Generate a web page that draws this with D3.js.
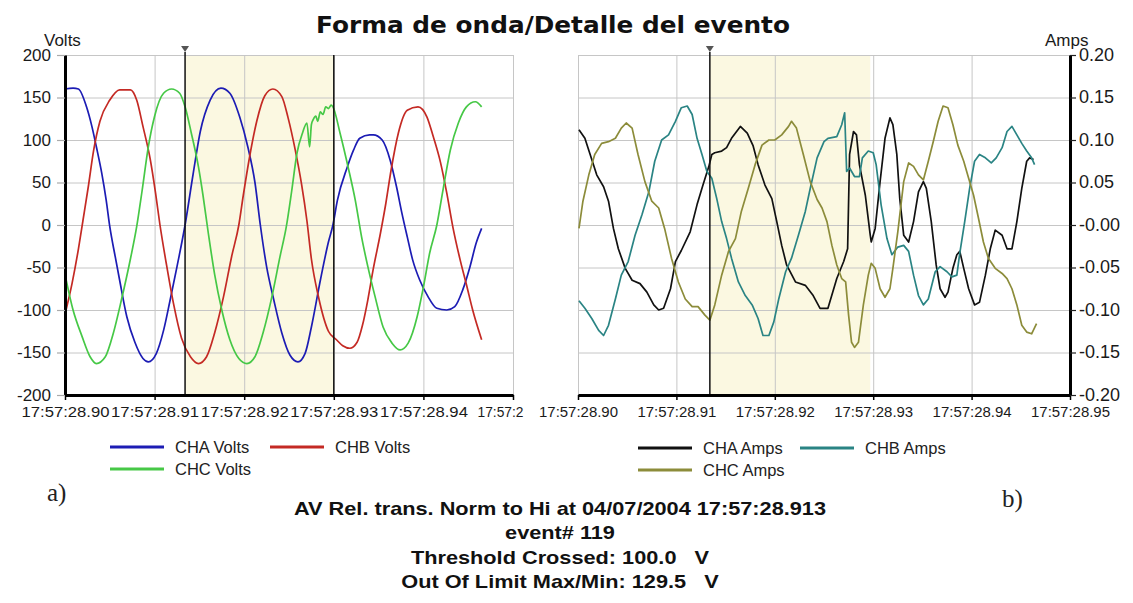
<!DOCTYPE html>
<html><head><meta charset="utf-8">
<script src="https://cdn.jsdelivr.net/npm/d3@7"></script>
<style>body{margin:0;background:#fff}svg{display:block}</style>
</head><body>
<svg id="c" width="1133" height="603"></svg>
<script>
// ---------- DATA (time in ms after 17:57:28.900) ----------
const xTickValues = [0, 10, 20, 30, 40, 50];
const voltsXLabels = ["17:57:28.90","17:57:28.91","17:57:28.92","17:57:28.93","17:57:28.94","17:57:2"];
const ampsXLabels  = ["17:57:28.90","17:57:28.91","17:57:28.92","17:57:28.93","17:57:28.94","17:57:28.95"];
const voltsYTicks  = [-200,-150,-100,-50,0,50,100,150,200];
const voltsYLabels = ["-200","-150","-100","-50","0","50","100","150","200"];
const ampsYTicks   = [-0.2,-0.15,-0.1,-0.05,0,0.05,0.1,0.15,0.2];
const ampsYLabels  = ["-0.20","-0.15","-0.10","-0.05","-0.00","0.05","0.10","0.15","0.20"];

const eventStart = 13.4;   // trigger marker
const eventEndVolts = 30.0;
const eventEndAmps = 29.7;

const chaVolts = [[0,160],[0.9,161],[1.5,160],[2.4,139],[3.0,116],[3.5,92],[4.1,61],[4.6,29],[5.0,-2],[5.6,-37],[6.1,-65],[6.9,-108],[7.8,-138],[8.7,-157],[9.3,-161],[10.2,-151],[11.0,-124],[11.7,-90],[12.5,-49],[13.4,0],[14.3,60],[15.1,110],[16.2,147],[17.4,161],[18.4,155],[19.5,127],[20.4,92],[21.2,50],[21.8,0],[22.5,-49],[23.3,-88],[24.2,-127],[25.1,-153],[26.0,-161],[26.8,-151],[27.5,-120],[28.5,-65],[29.4,-20],[29.9,0],[30.4,29],[31.5,68],[32.2,88],[32.9,102],[34.0,106],[34.4,106],[35.4,100],[36.3,76],[37.0,45],[37.6,14],[38.2,-14],[38.8,-41],[39.6,-65],[40.5,-84],[41.5,-98],[42.6,-100],[43.5,-96],[44.4,-76],[45.2,-49],[45.9,-21],[46.5,-4]];
const chbVolts = [[0,-105],[0.8,-68],[1.5,-28],[2.0,5],[2.6,45],[3.2,88],[3.9,122],[5.0,147],[6.1,159],[7.3,159],[8.0,147],[8.7,116],[9.5,78],[10.1,38],[10.6,0],[11.3,-45],[12.1,-92],[13.0,-133],[14.0,-155],[14.9,-163],[15.8,-155],[16.7,-127],[17.7,-84],[18.6,-37],[19.4,0],[19.9,35],[20.6,80],[21.4,122],[22.3,152],[23.2,160],[24.2,151],[24.9,126],[25.7,88],[26.4,48],[27.0,5],[27.5,-40],[28.3,-85],[29.4,-125],[30.3,-135],[31.0,-142],[31.8,-145],[32.6,-138],[33.2,-118],[33.8,-88],[34.4,-52],[35.2,-10],[35.8,25],[36.4,65],[37.2,108],[38.2,135],[39.4,139],[40.4,127],[41.1,104],[41.9,74],[42.6,38],[43.3,-3],[44.1,-41],[44.8,-70],[45.5,-100],[46.5,-135]];
const chcVolts = [[0,-58],[0.9,-100],[1.9,-131],[2.8,-155],[3.5,-163],[4.5,-155],[5.4,-127],[6.3,-88],[7.3,-40],[8.0,-2],[8.6,40],[9.3,92],[10.0,128],[11.0,155],[11.9,160],[12.8,155],[13.4,139],[14.1,108],[14.9,68],[15.4,35],[16.0,-10],[16.7,-58],[17.5,-100],[18.4,-135],[19.4,-157],[20.3,-163],[21.2,-155],[22.1,-127],[23.1,-84],[24.0,-37],[24.7,-2],[25.3,40],[25.9,85],[26.5,108],[27.0,120],[27.3,92],[27.5,118],[27.7,124],[28.0,128],[28.2,122],[28.5,133],[28.8,130],[29.1,139],[29.4,137],[29.7,141],[29.9,139],[30.7,108],[31.6,68],[32.4,29],[33.1,-14],[33.8,-49],[34.6,-84],[35.5,-120],[36.5,-139],[37.4,-147],[38.3,-139],[39.3,-108],[40.0,-73],[40.7,-33],[41.5,0],[42.2,42],[43.0,88],[43.9,120],[44.8,139],[45.8,145],[46.5,139]];

const chaAmps = [[0.1,0.112],[0.7,0.102],[1.4,0.077],[1.9,0.059],[2.6,0.045],[3.1,0.028],[3.6,-0.004],[4.1,-0.028],[4.8,-0.051],[5.5,-0.065],[6.3,-0.069],[7.0,-0.079],[7.7,-0.094],[8.2,-0.100],[8.7,-0.098],[9.4,-0.075],[9.9,-0.043],[10.5,-0.030],[11.4,-0.008],[12.1,0.024],[12.7,0.047],[13.3,0.069],[13.6,0.083],[13.9,0.085],[14.6,0.087],[15.1,0.091],[15.6,0.102],[16.5,0.116],[17.2,0.108],[17.8,0.093],[18.3,0.071],[19.0,0.047],[19.7,0.031],[20.2,0.004],[20.7,-0.024],[21.2,-0.047],[22.1,-0.067],[23.1,-0.071],[23.9,-0.083],[24.6,-0.098],[25.4,-0.098],[26.3,-0.063],[27.0,-0.043],[27.4,-0.028],[27.6,0.083],[28.0,0.110],[28.3,0.106],[28.6,0.071],[29.2,0.035],[29.7,-0.012],[29.8,-0.020],[30.2,-0.004],[30.7,0.051],[31.2,0.102],[31.7,0.126],[32.0,0.118],[32.4,0.083],[32.7,0.031],[33.1,-0.012],[33.6,-0.020],[34.1,0.004],[34.6,0.039],[35.1,0.051],[35.4,0.043],[35.9,0.004],[36.4,-0.047],[36.8,-0.075],[37.3,-0.085],[37.6,-0.079],[38.1,-0.051],[38.5,-0.035],[38.8,-0.031],[39.2,-0.051],[39.7,-0.075],[40.3,-0.094],[40.8,-0.091],[41.4,-0.059],[41.9,-0.028],[42.4,-0.006],[43.1,-0.012],[43.6,-0.028],[44.1,-0.028],[44.6,0.004],[45.1,0.043],[45.6,0.075],[45.9,0.079],[46.3,0.077]];
const chbAmps = [[0.1,-0.089],[0.7,-0.098],[1.4,-0.110],[2.1,-0.124],[2.6,-0.130],[3.1,-0.118],[3.8,-0.087],[4.4,-0.059],[5.1,-0.043],[5.8,-0.012],[6.5,0.012],[7.2,0.039],[7.8,0.075],[8.5,0.100],[9.2,0.106],[9.9,0.122],[10.5,0.138],[11.1,0.140],[11.6,0.130],[12.1,0.102],[12.6,0.083],[13.1,0.063],[13.6,0.055],[14.1,0.031],[14.6,0.004],[15.1,-0.016],[15.6,-0.039],[16.3,-0.067],[17.0,-0.083],[17.7,-0.094],[18.3,-0.110],[18.8,-0.130],[19.4,-0.130],[19.9,-0.114],[20.4,-0.087],[21.1,-0.055],[21.7,-0.039],[22.4,-0.012],[23.1,0.016],[23.6,0.043],[24.3,0.079],[25.0,0.098],[25.4,0.102],[26.3,0.104],[26.8,0.118],[27.1,0.132],[27.3,0.063],[27.6,0.067],[28.1,0.057],[28.6,0.057],[28.9,0.079],[29.5,0.087],[30.0,0.085],[30.3,0.071],[30.8,0.024],[31.4,-0.016],[31.9,-0.035],[32.5,-0.026],[33.1,-0.024],[33.6,-0.031],[34.1,-0.059],[34.6,-0.083],[35.1,-0.094],[35.6,-0.087],[36.3,-0.055],[36.8,-0.049],[37.5,-0.055],[38.0,-0.061],[38.5,-0.059],[38.8,-0.033],[39.3,0.004],[39.8,0.043],[40.3,0.075],[40.8,0.083],[41.4,0.079],[42.0,0.073],[42.5,0.079],[43.1,0.091],[43.6,0.110],[44.1,0.116],[44.6,0.106],[45.1,0.096],[45.6,0.087],[46.1,0.079],[46.4,0.071]];
const chcAmps = [[0.1,-0.004],[0.5,0.028],[1.1,0.059],[1.7,0.083],[2.4,0.096],[3.1,0.098],[3.8,0.102],[4.4,0.114],[4.9,0.120],[5.5,0.114],[6.1,0.083],[6.8,0.051],[7.5,0.028],[8.2,0.020],[8.8,-0.004],[9.5,-0.039],[10.2,-0.067],[10.9,-0.087],[11.6,-0.096],[12.2,-0.096],[12.9,-0.106],[13.4,-0.112],[13.9,-0.094],[14.6,-0.059],[15.3,-0.031],[16.0,-0.016],[16.6,0.016],[17.3,0.043],[18.0,0.071],[18.7,0.094],[19.4,0.100],[20.0,0.100],[20.7,0.106],[21.4,0.116],[21.7,0.122],[22.2,0.114],[22.9,0.083],[23.6,0.051],[24.3,0.030],[24.8,0.020],[25.3,0.004],[25.8,-0.024],[26.3,-0.047],[26.8,-0.063],[27.2,-0.067],[27.5,-0.106],[27.8,-0.138],[28.1,-0.144],[28.5,-0.138],[29.0,-0.094],[29.5,-0.059],[29.8,-0.045],[30.2,-0.051],[30.7,-0.075],[31.2,-0.085],[31.7,-0.075],[32.0,-0.051],[32.5,-0.008],[33.1,0.051],[33.6,0.073],[34.1,0.069],[34.6,0.059],[35.1,0.053],[35.6,0.075],[36.1,0.098],[36.6,0.122],[37.1,0.140],[37.6,0.138],[38.1,0.118],[38.6,0.094],[39.2,0.075],[39.7,0.055],[40.2,0.035],[40.7,0.008],[41.2,-0.020],[41.7,-0.039],[42.4,-0.051],[43.1,-0.057],[43.6,-0.063],[44.1,-0.075],[44.6,-0.094],[45.1,-0.118],[45.6,-0.126],[46.1,-0.128],[46.6,-0.116]];

const voltsSeries = [
  {name:"CHA Volts", data:chaVolts, color:"#1c1cb4"},
  {name:"CHB Volts", data:chbVolts, color:"#c42a24"},
  {name:"CHC Volts", data:chcVolts, color:"#46c846"}
];
const ampsSeries = [
  {name:"CHA Amps", data:chaAmps, color:"#111111"},
  {name:"CHB Amps", data:chbAmps, color:"#2a8484"},
  {name:"CHC Amps", data:chcAmps, color:"#8c8c3a"}
];
const titleText = "Forma de onda/Detalle del evento";
const infoLines = ["AV Rel. trans. Norm to Hi at 04/07/2004 17:57:28.913","event# 119","Threshold Crossed: 100.0   V","Out Of Limit Max/Min: 129.5   V"];

// ---------- DRAWING ----------
const SANS = "'Liberation Sans', Arial, sans-serif";
const svg = d3.select("#c");
svg.append("rect").attr("width",1133).attr("height",603).attr("fill","#fff");

const plotTop = 55, plotBottom = 395;
const xV = d3.scaleLinear().domain([0,50]).range([65,513]);
const yV = d3.scaleLinear().domain([-200,200]).range([plotBottom,plotTop]);
const xA = d3.scaleLinear().domain([0,50]).range([578,1070]);
const yA = d3.scaleLinear().domain([-0.2,0.2]).range([plotBottom,plotTop]);

function panel(x, y, yTicks, yLabels, xLabels, series, evEnd, side, curve, endLine, xLabelLen) {
  const g = svg.append("g");
  const [x0,x1] = x.range();
  g.append("rect").attr("x",x(eventStart)).attr("y",plotTop).attr("width",x(evEnd)-x(eventStart))
   .attr("height",plotBottom-plotTop).attr("fill","#fbf8e1");
  g.append("g").attr("transform",`translate(${x0},0)`)
    .call(d3.axisLeft(y).tickValues(yTicks).tickSize(-(x1-x0)).tickFormat(""))
    .call(s=>{s.select(".domain").remove(); s.selectAll("line").attr("stroke","#c6c6c6");});
  g.append("g").attr("transform",`translate(0,${plotTop})`)
    .call(d3.axisTop(x).tickValues(xTickValues).tickSize(-(plotBottom-plotTop)).tickFormat(""))
    .call(s=>{s.select(".domain").remove(); s.selectAll("line").attr("stroke","#c6c6c6");});
  const line = d3.line().x(d=>x(d[0])).y(d=>y(d[1])).curve(curve);
  series.forEach(s=>{
    g.append("path").attr("d",line(s.data)).attr("fill","none")
     .attr("stroke",s.color).attr("stroke-width",1.7).attr("stroke-linejoin","round");
  });
  g.append("line").attr("x1",x(eventStart)).attr("x2",x(eventStart)).attr("y1",52).attr("y2",plotBottom)
   .attr("stroke","#111").attr("stroke-width",1.5);
  if (endLine) g.append("line").attr("x1",x(evEnd)).attr("x2",x(evEnd)).attr("y1",plotTop).attr("y2",plotBottom)
   .attr("stroke","#111").attr("stroke-width",1.5);
  const tx = x(eventStart);
  g.append("path").attr("d",`M${tx-4},46 L${tx+4},46 L${tx},52 Z`).attr("fill","#555");
  const xa = g.append("g").attr("transform",`translate(0,${plotBottom})`)
    .call(d3.axisBottom(x).tickValues(xTickValues).tickFormat((d,i)=>xLabels[i]).tickSize(5).tickPadding(6).tickSizeOuter(0));
  xa.select(".domain").attr("stroke","#000").attr("stroke-width",3);
  xa.selectAll(".tick line").attr("stroke","#000").attr("stroke-width",1.5);
  xa.selectAll("text").attr("font-family",SANS).attr("font-size",15).attr("fill","#1a1a1a")
    .attr("textLength",xLabelLen).attr("lengthAdjust","spacingAndGlyphs");
  let ya;
  if (side==="left") {
    ya = g.append("g").attr("transform",`translate(${x0},0)`)
      .call(d3.axisLeft(y).tickValues(yTicks).tickFormat((d,i)=>yLabels[i]).tickSize(8).tickPadding(6).tickSizeOuter(0));
  } else {
    ya = g.append("g").attr("transform",`translate(${x1},0)`)
      .call(d3.axisRight(y).tickValues(yTicks).tickFormat((d,i)=>yLabels[i]).tickSize(6).tickPadding(3).tickSizeOuter(0));
  }
  ya.select(".domain").attr("stroke","#000").attr("stroke-width",3);
  ya.selectAll(".tick line").attr("stroke", side==="left" ? "#aaa" : "#222").attr("stroke-width",1.2);
  ya.selectAll("text").attr("font-family",SANS).attr("font-size",side==="left"?17:18).attr("fill","#1a1a1a").attr("dy","0.3em");
  return xa;
}

const xaV = panel(xV, yV, voltsYTicks, voltsYLabels, voltsXLabels, voltsSeries, eventEndVolts, "left", d3.curveMonotoneX, true, 88);
xaV.selectAll(".tick").filter((d,i)=>i===xTickValues.length-1).select("text")
   .attr("text-anchor","start").attr("x",-36).attr("textLength",46);
panel(xA, yA, ampsYTicks, ampsYLabels, ampsXLabels, ampsSeries, eventEndAmps, "right", d3.curveLinear, false, 79);

svg.append("text").attr("x",44).attr("y",46).attr("font-family",SANS).attr("font-size",17).attr("fill","#1a1a1a").text("Volts");
svg.append("text").attr("x",1045).attr("y",46).attr("font-family",SANS).attr("font-size",17).attr("fill","#1a1a1a").text("Amps");

svg.append("text").attr("x",553).attr("y",33).attr("text-anchor","middle")
  .attr("font-family","'DejaVu Sans', Verdana, sans-serif").attr("font-weight","bold").attr("font-size",23)
  .attr("fill","#111").attr("textLength",474).attr("lengthAdjust","spacingAndGlyphs").text(titleText);

function legend(series, lx, tx, x2, tx2, y1, y2) {
  const pos = [[lx,tx,y1],[x2,tx2,y1],[lx,tx,y2]];
  series.forEach((s,i)=>{
    const [l,t,yy] = pos[i];
    svg.append("line").attr("x1",l).attr("x2",l+54).attr("y1",yy).attr("y2",yy)
      .attr("stroke",s.color).attr("stroke-width",3);
    svg.append("text").attr("x",t).attr("y",yy+6).attr("font-family",SANS).attr("font-size",16.5)
      .attr("fill","#222").text(s.name);
  });
}
legend(voltsSeries, 110, 175, 270, 335, 447, 469);
legend(ampsSeries, 638, 703, 800, 865, 448, 470);

svg.append("text").attr("x",47).attr("y",501).attr("font-family","'Liberation Serif', 'Times New Roman', serif")
  .attr("font-size",25).attr("fill","#222").text("a)");
svg.append("text").attr("x",1002).attr("y",507).attr("font-family","'Liberation Serif', 'Times New Roman', serif")
  .attr("font-size",25).attr("fill","#222").text("b)");

const infoY = [515, 539, 564, 588];
const infoTexts = infoLines.map((t,i)=> svg.append("text").attr("x",560).attr("y",infoY[i])
   .attr("text-anchor","middle").attr("font-family",SANS).attr("font-weight","bold").attr("font-size",19)
   .attr("fill","#111").style("white-space","pre").text(t));
const ratio = 532 / infoTexts[0].node().getComputedTextLength();
infoTexts.forEach(t=>{
  const w = t.node().getComputedTextLength();
  t.attr("textLength", w*ratio).attr("lengthAdjust","spacingAndGlyphs");
});
</script>
</body></html>
